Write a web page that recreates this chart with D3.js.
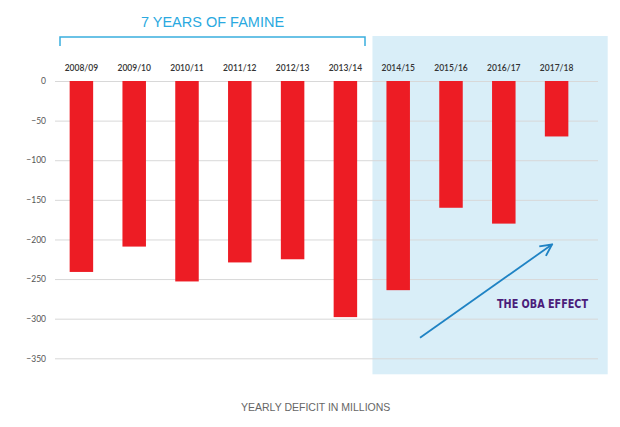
<!DOCTYPE html>
<html>
<head>
<meta charset="utf-8">
<script src="https://cdn.jsdelivr.net/npm/d3@7"></script>
<style>
  body { margin: 0; background: #fff; }
  text { font-family: Lato, "Open Sans", sans-serif; }
</style>
</head>
<body>
<svg id="chart"></svg>
<script>
const years = ["2008/09", "2009/10", "2010/11", "2011/12", "2012/13",
  "2013/14", "2014/15", "2015/16", "2016/17", "2017/18"];
const deficits = [-241, -209, -253, -229, -225, -298, -264, -160, -180, -70];
const yTicks = [0, -50, -100, -150, -200, -250, -300, -350];
const famineYears = years.slice(0, 6);
const obaYears = years.slice(6);

const W = 620, H = 427;

const svg = d3.select("#chart")
  .attr("width", W)
  .attr("height", H);

const x = d3.scaleBand()
  .domain(years)
  .range([55, 583])
  .paddingInner(0.555)
  .paddingOuter(0.2775);

const y = d3.scaleLinear()
  .domain([-350, 0])
  .range([358.3, 81]);

// light blue panel behind the later years
svg.append("rect")
  .attr("x", x(obaYears[0]) - 14)
  .attr("y", 36)
  .attr("width", 607.7 - (x(obaYears[0]) - 14))
  .attr("height", 374.3 - 36)
  .attr("fill", "#d9eef8");

// gridlines + tick labels
const yAxis = d3.axisLeft(y)
  .tickValues(yTicks)
  .tickSize(-(598 - 55))
  .tickPadding(9)
  .tickFormat(d3.format("d"));

const yg = svg.append("g")
  .attr("transform", "translate(55,0)")
  .call(yAxis);
yg.select(".domain").remove();
yg.selectAll(".tick line").attr("stroke", "#d8d8d8").attr("stroke-width", 1);
yg.selectAll(".tick text")
  .attr("fill", "#555")
  .style("font-size", "8.5px");

// bars
svg.selectAll(".bar")
  .data(deficits)
  .enter()
  .append("rect")
  .attr("class", "bar")
  .attr("x", (d, i) => x(years[i]))
  .attr("y", y(0))
  .attr("width", x.bandwidth())
  .attr("height", d => y(d) - y(0))
  .attr("fill", "#ed1c24");

// year labels on top
const xAxis = d3.axisTop(x).tickSize(0).tickPadding(10);
const xg = svg.append("g")
  .attr("transform", "translate(0,81)")
  .call(xAxis);
xg.select(".domain").remove();
xg.selectAll(".tick text")
  .attr("fill", "#333")
  .style("font-size", "8.5px")
  .style("font-weight", "600");

// famine bracket
const bx0 = 60, bx1 = 365;
svg.append("path")
  .attr("d", `M${bx0},46V37H${bx1}V46`)
  .attr("fill", "none")
  .attr("stroke", "#3aaede")
  .attr("stroke-width", 1.5);

svg.append("text")
  .attr("x", 212.5)
  .attr("y", 27)
  .attr("text-anchor", "middle")
  .attr("fill", "#2aa9e0")
  .style("font-family", "'Liberation Sans', Arial, sans-serif")
  .style("font-size", "14.5px")
  .text("7 YEARS OF FAMINE");

// arrow
svg.append("defs").append("marker")
  .attr("id", "head")
  .attr("viewBox", "0 0 10 10")
  .attr("refX", 9)
  .attr("refY", 5)
  .attr("markerWidth", 8)
  .attr("markerHeight", 8)
  .attr("orient", "auto")
  .append("path")
  .attr("d", "M1,1L9,5L1,9")
  .attr("fill", "none")
  .attr("stroke", "#1f83c4")
  .attr("stroke-width", 1.3);

svg.append("line")
  .attr("x1", 420)
  .attr("y1", 337.7)
  .attr("x2", 552)
  .attr("y2", 244.5)
  .attr("stroke", "#1f83c4")
  .attr("stroke-width", 1.8)
  .attr("marker-end", "url(#head)");

svg.append("text")
  .attr("x", 497)
  .attr("y", 307.5)
  .attr("fill", "#4b1d7a")
  .attr("textLength", 91)
  .attr("lengthAdjust", "spacingAndGlyphs")
  .style("font-family", "'DejaVu Sans Condensed', 'DejaVu Sans', sans-serif")
  .style("font-weight", "bold")
  .style("font-size", "12px")
  .text("THE OBA EFFECT");

// axis title
svg.append("text")
  .attr("x", 241)
  .attr("y", 411)
  .attr("fill", "#666")
  .style("font-family", "'Liberation Sans', Arial, sans-serif")
  .style("font-size", "10.5px")
  .text("YEARLY DEFICIT IN MILLIONS");
</script>
</body>
</html>
